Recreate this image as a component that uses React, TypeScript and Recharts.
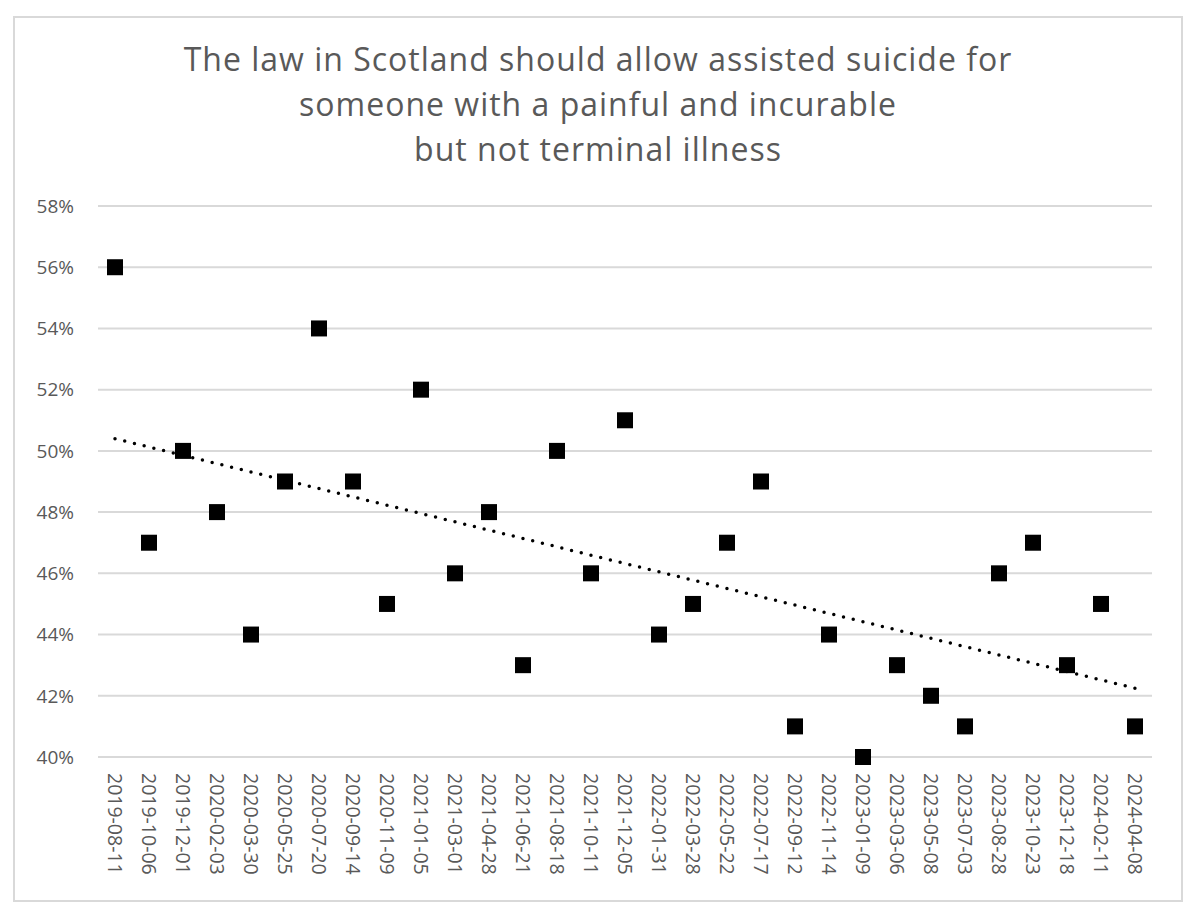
import { CartesianGrid, ComposedChart, Line, Scatter, XAxis, YAxis } from "recharts"

const dates = [
  "2019-08-11", "2019-10-06", "2019-12-01", "2020-02-03", "2020-03-30", "2020-05-25",
  "2020-07-20", "2020-09-14", "2020-11-09", "2021-01-05", "2021-03-01", "2021-04-28",
  "2021-06-21", "2021-08-18", "2021-10-11", "2021-12-05", "2022-01-31", "2022-03-28",
  "2022-05-22", "2022-07-17", "2022-09-12", "2022-11-14", "2023-01-09", "2023-03-06",
  "2023-05-08", "2023-07-03", "2023-08-28", "2023-10-23", "2023-12-18", "2024-02-11",
  "2024-04-08",
]

const agree = [
  56, 47, 50, 48, 44, 49, 54, 49, 45, 52, 46, 48, 43, 50, 46, 51, 44, 45, 47, 49, 41, 44,
  40, 43, 42, 41, 46, 47, 43, 45, 41,
]

const yTicks = [40, 42, 44, 46, 48, 50, 52, 54, 56, 58]

const titleLines = [
  "The law in Scotland should allow assisted suicide for",
  "someone with a painful and incurable",
  "but not terminal illness",
]

// linear trendline (least squares over point index), like Excel's
const n = agree.length
const meanX = (n - 1) / 2
const meanY = agree.reduce((a, b) => a + b, 0) / n
let sxy = 0
let sxx = 0
agree.forEach((v, i) => {
  sxy += (i - meanX) * (v - meanY)
  sxx += (i - meanX) * (i - meanX)
})
const slope = sxy / sxx
const intercept = meanY - slope * meanX

const data = dates.map((d, i) => ({
  date: d,
  value: agree[i],
  trend: intercept + slope * i,
}))

const font = "'Open Sans', sans-serif"
const grey = "#595959"

const Square = (props: any) => {
  const { cx, cy } = props
  if (cx == null || cy == null) return null
  return <rect x={cx - 8} y={cy - 8} width={16} height={16} fill="#000" />
}

const DateTick = (props: any) => {
  const { x, y, payload } = props
  return (
    <g transform={`translate(${x},${y})`}>
      <text
        transform="rotate(90)"
        x={8}
        y={0}
        textAnchor="start"
        dominantBaseline="central"
        fill={grey}
        fontSize={19.5}
        fontFamily={font}
      >
        {payload.value}
      </text>
    </g>
  )
}

export default function App() {
  return (
    <div
      style={{
        position: "absolute",
        left: 0,
        top: 0,
        width: 1200,
        height: 914,
        background: "#fff",
        fontFamily: font,
      }}
    >
      <div
        style={{
          position: "absolute",
          left: 13,
          top: 16,
          width: 1170,
          height: 886,
          border: "2px solid #d9d9d9",
          boxSizing: "border-box",
        }}
      />
      <div
        style={{
          position: "absolute",
          left: 13,
          top: 36,
          width: 1170,
          textAlign: "center",
          color: grey,
          fontSize: 32,
          letterSpacing: 1,
          lineHeight: "45px",
        }}
      >
        {titleLines.map((t) => (
          <div key={t}>{t}</div>
        ))}
      </div>
      <div style={{ position: "absolute", left: 0, top: 0 }}>
        <ComposedChart
          width={1200}
          height={914}
          data={data}
          margin={{ top: 206, right: 48, bottom: 0, left: 38 }}
        >
          <CartesianGrid vertical={false} stroke="#d9d9d9" strokeWidth={2} />
          <XAxis
            dataKey="date"
            interval={0}
            height={157}
            padding={{ left: 17, right: 17 }}
            axisLine={false}
            tickLine={false}
            tick={<DateTick />}
          />
          <YAxis
            domain={[40, 58]}
            ticks={yTicks}
            width={60}
            axisLine={false}
            tickLine={false}
            tickMargin={18}
            tickFormatter={(v: number) => v + "%"}
            tick={{ fill: grey, fontSize: 19, fontFamily: font }}
          />
          <Scatter dataKey="value" shape={<Square />} isAnimationActive={false} />
          <Line
            dataKey="trend"
            stroke="#000"
            strokeWidth={3.5}
            strokeDasharray="0 10"
            strokeLinecap="round"
            dot={false}
            activeDot={false}
            isAnimationActive={false}
          />
        </ComposedChart>
      </div>
    </div>
  )
}
